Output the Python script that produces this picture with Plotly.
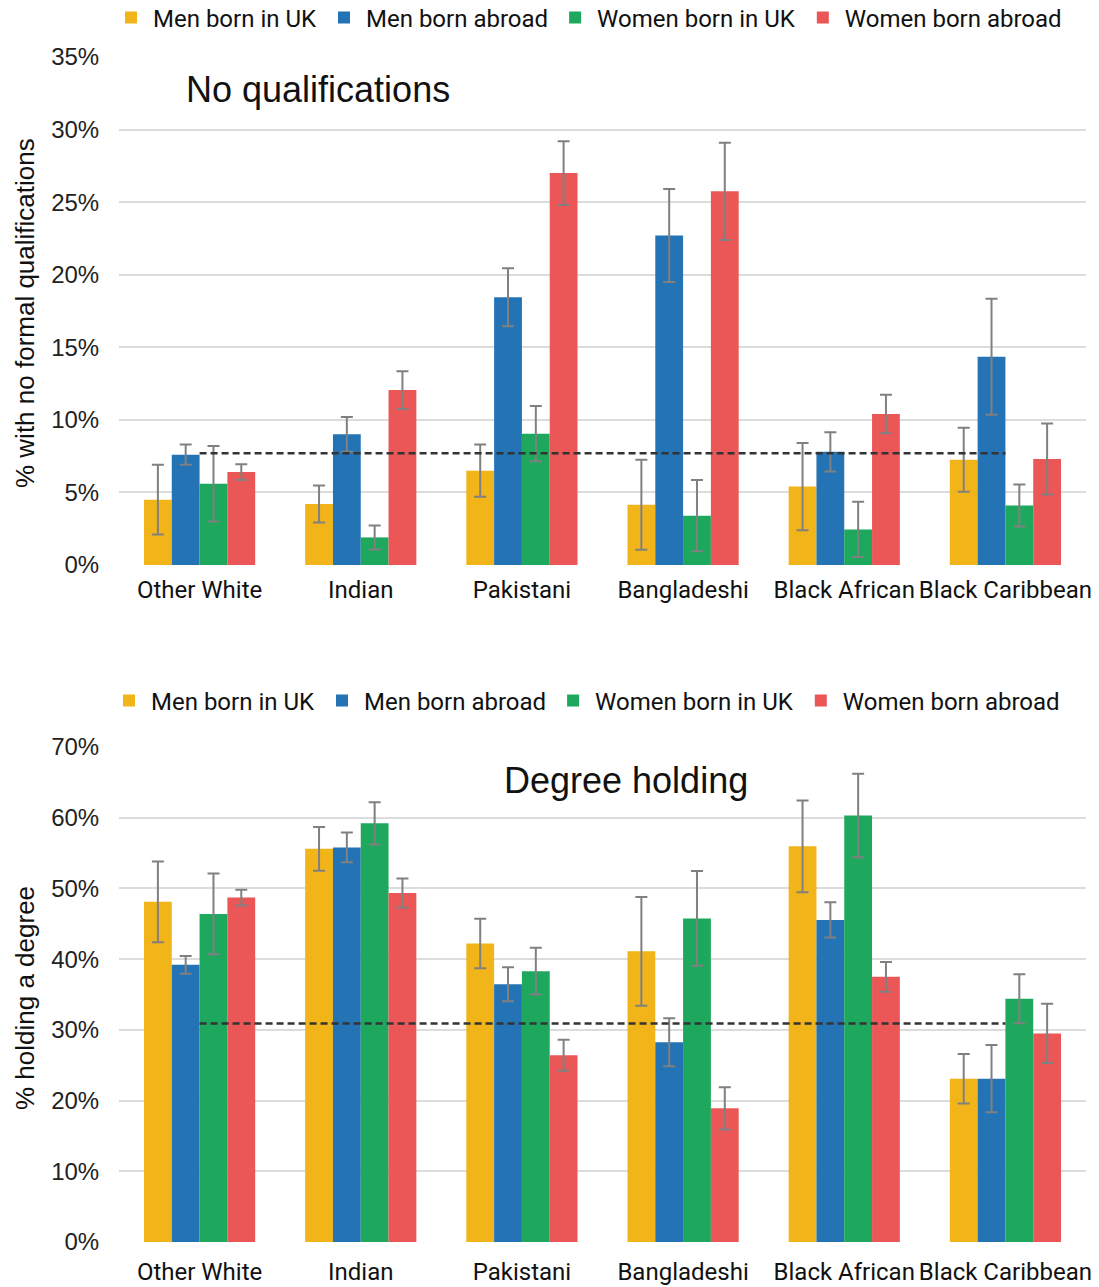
import plotly.graph_objects as go

categories = ["Other White", "Indian", "Pakistani", "Bangladeshi", "Black African", "Black Caribbean"]
series_names = ["Men born in UK", "Men born abroad", "Women born in UK", "Women born abroad"]
colors = ["#F2B519", "#2473B5", "#1DA85D", "#EB5757"]

# Panel 1: % with no formal qualifications
noqual_men_uk = [4.5, 4.2, 6.5, 4.15, 5.4, 7.25]
noqual_men_abroad = [7.6, 9.0, 18.45, 22.7, 7.8, 14.35]
noqual_women_uk = [5.6, 1.9, 9.05, 3.4, 2.45, 4.1]
noqual_women_abroad = [6.4, 12.05, 27.0, 25.75, 10.4, 7.3]
noqual_err_men_uk = [2.4, 1.27, 1.8, 3.1, 3.0, 2.2]
noqual_err_men_abroad = [0.7, 1.2, 2.0, 3.2, 1.35, 4.0]
noqual_err_women_uk = [2.6, 0.83, 1.9, 2.45, 1.9, 1.45]
noqual_err_women_abroad = [0.55, 1.3, 2.2, 3.35, 1.33, 2.45]
noqual_average = 7.7

# Panel 2: % holding a degree
degree_men_uk = [48.1, 55.6, 42.2, 41.1, 55.95, 23.1]
degree_men_abroad = [39.2, 55.8, 36.45, 28.25, 45.55, 23.1]
degree_women_uk = [46.4, 59.2, 38.3, 45.75, 60.3, 34.4]
degree_women_abroad = [48.7, 49.35, 26.4, 18.9, 37.5, 29.5]
degree_err_men_uk = [5.7, 3.1, 3.5, 7.7, 6.5, 3.5]
degree_err_men_abroad = [1.25, 2.1, 2.4, 3.4, 2.5, 4.75]
degree_err_women_uk = [5.7, 3.0, 3.3, 6.7, 5.9, 3.45]
degree_err_women_abroad = [1.1, 2.05, 2.2, 3.0, 2.1, 4.2]
degree_average = 30.9

W, H = 1099, 1287
fig = go.Figure()

panels = [
    ([noqual_men_uk, noqual_men_abroad, noqual_women_uk, noqual_women_abroad],
     [noqual_err_men_uk, noqual_err_men_abroad, noqual_err_women_uk, noqual_err_women_abroad],
     noqual_average, "x", "y", "legend"),
    ([degree_men_uk, degree_men_abroad, degree_women_uk, degree_women_abroad],
     [degree_err_men_uk, degree_err_men_abroad, degree_err_women_uk, degree_err_women_abroad],
     degree_average, "x2", "y2", "legend2"),
]

for vals, errs, avg, xa, ya, lg in panels:
    for name, v, e, c in zip(series_names, vals, errs, colors):
        fig.add_trace(go.Bar(
            x=categories, y=v, name=name, xaxis=xa, yaxis=ya, legend=lg,
            marker=dict(color=c, line=dict(width=0)),
            error_y=dict(type="data", array=e, color="#808080", thickness=2, width=6),
        ))
    fig.add_trace(go.Scatter(
        x=[categories[0], categories[-1]], y=[avg, avg], mode="lines",
        xaxis=xa, yaxis=ya, showlegend=False,
        line=dict(color="#333333", width=2.5, dash="7px,4px"),
    ))

def py(px):
    return (H - px) / H

tick_font = dict(family="Liberation Sans, Arial", size=24, color="#222222")
cat_font = dict(family="Roboto", size=24, color="#111111")
grid = dict(showgrid=True, gridcolor="#dcdcdc", gridwidth=1.5, zeroline=False, showline=False)
legend_font = dict(family="Roboto", size=24, color="#111111")

fig.update_layout(
    width=W, height=H,
    margin=dict(l=0, r=0, t=0, b=0, autoexpand=False),
    paper_bgcolor="white", plot_bgcolor="white",
    barmode="group", bargap=0.31, bargroupgap=0,
    xaxis=dict(domain=[119 / W, 1086 / W], anchor="y", tickfont=cat_font,
               ticks="outside", ticklen=3, tickcolor="rgba(0,0,0,0)", showgrid=False,
               showline=False, automargin=False),
    yaxis=dict(domain=[py(565), py(57)], anchor="x", range=[0, 35], dtick=5,
               ticksuffix="%", tickfont=tick_font, ticks="outside", ticklen=14,
               tickcolor="rgba(0,0,0,0)", automargin=False, **grid),
    xaxis2=dict(domain=[119 / W, 1086 / W], anchor="y2", tickfont=cat_font,
                ticks="outside", ticklen=8, tickcolor="rgba(0,0,0,0)", showgrid=False,
                showline=False, automargin=False),
    yaxis2=dict(domain=[py(1242), py(747)], anchor="x2", range=[0, 70], dtick=10,
                ticksuffix="%", tickfont=tick_font, ticks="outside", ticklen=14,
                tickcolor="rgba(0,0,0,0)", automargin=False, **grid),
    legend=dict(orientation="h", x=109 / W, xanchor="left", y=py(18), yanchor="middle",
                font=legend_font, itemwidth=34,
                bgcolor="rgba(0,0,0,0)", traceorder="normal"),
    legend2=dict(orientation="h", x=107 / W, xanchor="left", y=py(701), yanchor="middle",
                 font=legend_font, itemwidth=34,
                 bgcolor="rgba(0,0,0,0)", traceorder="normal"),
    showlegend=True,
)

title_font = dict(family="Liberation Sans, Arial", size=36, color="#111111")
axis_title_font = dict(family="Liberation Sans, Arial", size=26, color="#111111")
fig.add_annotation(text="No qualifications", xref="paper", yref="paper",
                   x=318 / W, y=py(89), xanchor="center", yanchor="middle",
                   showarrow=False, font=title_font)
fig.add_annotation(text="Degree holding", xref="paper", yref="paper",
                   x=626 / W, y=py(780), xanchor="center", yanchor="middle",
                   showarrow=False, font=title_font)
fig.add_annotation(text="% with no formal qualifications", xref="paper", yref="paper",
                   x=25 / W, y=py(313), xanchor="center", yanchor="middle", textangle=-90,
                   showarrow=False, font=axis_title_font)
fig.add_annotation(text="% holding a degree", xref="paper", yref="paper",
                   x=25 / W, y=py(998), xanchor="center", yanchor="middle", textangle=-90,
                   showarrow=False, font=axis_title_font)

fig.write_html("out.html", config={"displayModeBar": False},
               post_script="document.body.style.margin='0';document.body.style.overflow='hidden';")
